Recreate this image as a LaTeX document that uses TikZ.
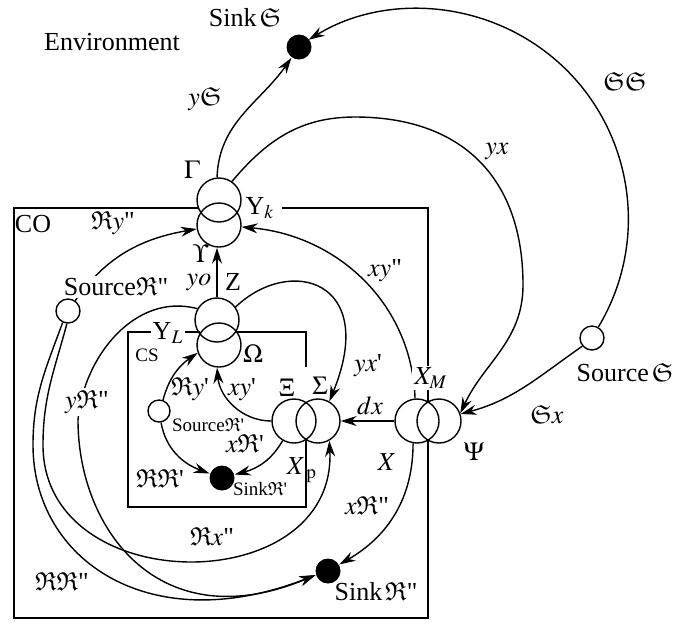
\documentclass[tikz,border=0pt]{standalone}
\usepackage{amssymb}
\usepackage{mathptmx}
\usepackage{fontspec}
\setmainfont{Liberation Serif}
\usetikzlibrary{arrows.meta}

\newcommand{\dq}{\textquotedbl}
\newcommand{\sq}{\textquotesingle}

\begin{document}
\begin{tikzpicture}[x=0.5pt, y=0.5pt,
        font=\rmfamily\fontsize{13}{15}\selectfont,
        line width=0.7pt,
        proc/.style={circle, draw, minimum size=22pt, inner sep=0pt},
        srcpt/.style={circle, draw, fill=white, minimum size=12pt, inner sep=0pt},
        sinkpt/.style={circle, fill=black, minimum size=12.5pt, inner sep=0pt},
        flow/.style={-{Stealth[length=8pt, width=5pt]}},
        cut/.style={fill=white, inner sep=1pt},
        small/.style={font=\rmfamily\fontsize{9.5}{11}\selectfont}
    ]
        \useasboundingbox (0,0) rectangle (689,-623);

        % Double circles of the processes
        \node[proc] (gam) at (219,-200) {};
        \node[proc] (ups) at (219,-225) {};
        \node[proc] (zc) at (217,-320) {};
        \node[proc] (om) at (219,-345) {};
        \node[proc] (xi) at (294,-421) {};
        \node[proc] (sig) at (318,-421) {};
        \node[proc] (xm) at (417,-421) {};
        \node[proc] (psi) at (439,-421) {};

        % Sources and sinks
        \node[srcpt] (srcS) at (592,-338) {};
        \node[sinkpt] (sinkS) at (299,-47) {};
        \node[srcpt] (srcR2) at (68,-311) {};
        \node[sinkpt] (sinkR2) at (328,-571) {};
        \node[srcpt, minimum size=11pt] (srcR1) at (159,-411) {};
        \node[sinkpt] (sinkR1) at (222,-478) {};

        % Box CO
        \draw (282,-208) -- (428,-208) -- (428,-402);
        \draw (428,-440) -- (428,-618) -- (14,-618) -- (14,-208) -- (198.5,-208);
        % Box CS
        \draw (236,-332) -- (306,-332) -- (306,-367);
        \draw (306,-440.4) -- (306,-507) -- (128,-507) -- (128,-332) -- (200,-332);

        % Flows with the environment
        \draw[flow] (gam.95) to[out=88, in=235] (sinkS);
        \draw[flow] (gam.55) to[out=50, in=180] (355,-117) to[out=0, in=90, looseness=1.15] (523,-285) to[out=-90, in=65] (psi.20);
        \draw[flow] (srcS.60) arc[start angle=-31, end angle=121.5, radius=210];
        \draw[flow] (srcS.220) to[out=215, in=15] (psi.18);

        % Flows inside CO
        \draw[flow] (xm.95) to[out=92, in=-5] (ups.-5);
        \draw[flow] (zc.north) -- (zc.north |- ups.south);
        \draw[flow] (srcR2.55) to[out=55, in=190] (ups);
        \draw[flow] (zc.35) .. controls (290,-255) and (379,-280) .. (sig.60);
        \draw[flow] (xm.west) -- (sig.east);
        \draw[flow] (zc.150) to[out=165, in=85] (78,-420) .. controls (78,-530) and (160,-640) .. (sinkR2.198);
        \draw[flow] (srcR2.-115) to[out=-110, in=90] (33,-445) .. controls (33,-560) and (150,-640) .. (sinkR2.198);
        \draw[flow] (srcR2.-95) to[out=-105, in=90] (43,-445) .. controls (43,-600) and (337,-600) .. (sig.-60);
        \draw[flow] (xm.-100) to[out=-90, in=30] (sinkR2.30);

        % Flows inside CS
        \draw[flow] (xi.180) to[out=180, in=-85] (om.-95);
        \draw[flow] (srcR1.70) to[out=75, in=215] (om.200);
        \draw[flow] (srcR1.-80) to[out=-80, in=160] (sinkR1.160);
        \draw[flow] (xi.-120) to[out=-120, in=15] (sinkR1.15);

        % Labels
        \node (tEnv) at (112,-42) {Environment};
        \node (tSinkS) at (245,-18) {Sink$\,\mathfrak{S}$};
        \node (tyS) at (205,-99) {$y\mathfrak{S}$};
        \node (tSS) at (625,-82) {$\mathfrak{S}\mathfrak{S}$};
        \node (tyx) at (497,-151) {$yx$};
        \node (tGam) at (192,-170) {$\Gamma$};
        \node (tYk) at (260,-208) {Y$_k$};
        \node (tUps) at (201,-254) {$\Upsilon$};
        \node (tCO) at (33,-224) {CO};
        \node (tRy2) at (113,-223) {$\mathfrak{R}y$\dq};
        \node (txy2) at (385,-271) {$xy$\dq};
        \node[cut] (tSrcR2) at (116,-287) {Source$\mathfrak{R}$\dq};
        \node (tyo) at (199,-282) {$yo$};
        \node (tZ) at (233,-282) {Z};
        \node[cut] (tYL) at (168,-333) {Y$_L$};
        \node[small] (tCS) at (147,-355) {CS};
        \node (tOm) at (253,-354) {$\Omega$};
        \node (tRy1) at (190,-389) {$\mathfrak{R}y$\sq};
        \node (txy1) at (242,-390) {$xy$\sq};
        \node (tXi) at (287,-388) {$\Xi$};
        \node (tSig) at (320,-386) {$\Sigma$};
        \node (tyx1) at (368,-366) {$yx$\sq};
        \node[cut] (tXM) at (431,-378) {$X_M$};
        \node (tdx) at (370,-406) {$dx$};
        \node (tSrcS) at (625,-373) {Source$\,\mathfrak{S}$};
        \node (tSx) at (547,-415) {$\mathfrak{S}x$};
        \node (tPsi) at (474,-452) {$\Psi$};
        \node (tX) at (387,-462) {$X$};
        \node[cut] (tyR2) at (87,-402) {$y\mathfrak{R}$\dq};
        \node[small] (tSrcR1) at (208,-425) {Source$\mathfrak{R}$\sq};
        \node (txR1) at (245,-444) {$x\mathfrak{R}$\sq};
        \node (tXp) at (302,-470) {$X_{\;\mathrm{p}}$};
        \node (tRR1) at (160,-478) {$\mathfrak{R}\mathfrak{R}$\sq};
        \node[small] (tSinkR1) at (260,-489) {Sink$\mathfrak{R}$\sq};
        \node (txR2) at (367,-506) {$x\mathfrak{R}$\dq};
        \node (tRx2) at (212,-537) {$\mathfrak{R}x$\dq};
        \node (tRR2) at (62,-581) {$\mathfrak{R}\mathfrak{R}$\dq};
        \node (tSinkR2) at (376,-592) {Sink$\,\mathfrak{R}$\dq};
    \end{tikzpicture}
\end{document}
